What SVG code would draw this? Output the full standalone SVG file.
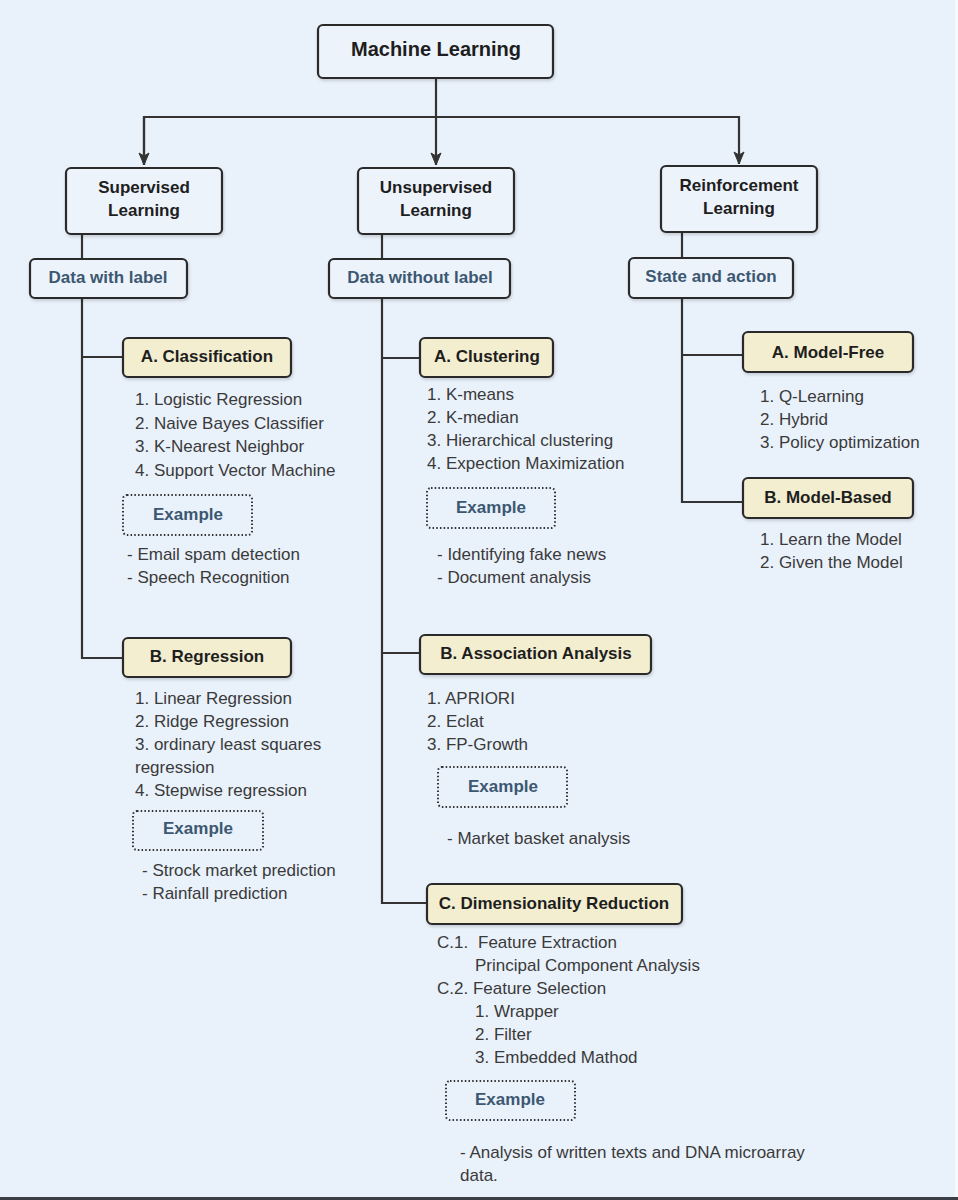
<svg xmlns="http://www.w3.org/2000/svg" width="958" height="1200" viewBox="0 0 958 1200">
<defs>
<marker id="arr" viewBox="0 0 14 12" refX="13" refY="6" markerWidth="14" markerHeight="12" markerUnits="userSpaceOnUse" orient="auto">
<path d="M1,1 L13,6 L1,11 L4,6 Z" fill="#333" stroke="#333" stroke-width="1" stroke-linejoin="round"/>
</marker>
<filter id="sh" x="-10%" y="-10%" width="130%" height="140%">
<feDropShadow dx="1" dy="2" stdDeviation="1.5" flood-color="#000" flood-opacity="0.15"/>
</filter>
<style>
.bg{fill:#e9f1fb}
.top{fill:#edf3fb;stroke:#2b2b2b;stroke-width:2.2}
.data{fill:#edf3fb;stroke:#2b2b2b;stroke-width:2.2}
.cat{fill:#f3eed0;stroke:#2b2b2b;stroke-width:2.2}
.ex{fill:none;stroke:#333;stroke-width:2;stroke-dasharray:1.5 2.2}
.ln{fill:none;stroke:#333;stroke-width:2.2}
text{font-family:"Liberation Sans",Arial,sans-serif}
.h{font-weight:bold;font-size:17px;fill:#1e1e1e;text-anchor:middle}
.big{font-weight:bold;font-size:20px;fill:#1e1e1e;text-anchor:middle}
.blue{font-weight:bold;font-size:17px;fill:#3c5871;text-anchor:middle}
.it{font-size:17px;fill:#3a3a3a}
</style>
</defs>
<rect class="bg" x="0" y="0" width="958" height="1200"/>
<rect x="955" y="0" width="3" height="1197" fill="#f5f8fc"/>
<rect x="0" y="1197" width="958" height="3" fill="#3b3e44"/>

<g id="connectors">
<path class="ln" d="M436,78 V165" marker-end="url(#arr)"/>
<path class="ln" d="M144,165 V117 H739 V164" marker-end="url(#arr)"/>
<path class="ln" d="M144,117 V165" marker-end="url(#arr)"/>
<path class="ln" d="M82,234 V259"/>
<path class="ln" d="M382,234 V259"/>
<path class="ln" d="M682,232 V258"/>
<path class="ln" d="M82,298 V658 H123"/>
<path class="ln" d="M82,357 H123"/>
<path class="ln" d="M382,298 V903 H427"/>
<path class="ln" d="M382,358 H420"/>
<path class="ln" d="M382,653 H420"/>
<path class="ln" d="M682,298 V502 H743"/>
<path class="ln" d="M682,355 H743"/>
</g>

<g id="ml"><rect class="top" filter="url(#sh)" x="318" y="25" width="235" height="53" rx="5"/><text class="big" x="436" y="56">Machine Learning</text></g>

<g id="supervised"><rect class="top" filter="url(#sh)" x="66" y="168" width="156" height="66" rx="5"/><text class="h" x="144" y="193">Supervised</text><text class="h" x="144" y="216">Learning</text></g>
<g id="unsupervised"><rect class="top" filter="url(#sh)" x="358" y="168" width="156" height="66" rx="5"/><text class="h" x="436" y="193">Unsupervised</text><text class="h" x="436" y="216">Learning</text></g>
<g id="reinforcement"><rect class="top" filter="url(#sh)" x="661" y="166" width="156" height="66" rx="5"/><text class="h" x="739" y="191">Reinforcement</text><text class="h" x="739" y="214">Learning</text></g>

<g id="data-with"><rect class="data" filter="url(#sh)" x="30" y="259" width="157" height="39" rx="5"/><text class="blue" x="108" y="283">Data with label</text></g>
<g id="data-without"><rect class="data" filter="url(#sh)" x="329" y="259" width="181" height="39" rx="5"/><text class="blue" x="420" y="283">Data without label</text></g>
<g id="state-action"><rect class="data" filter="url(#sh)" x="629" y="258" width="164" height="40" rx="5"/><text class="blue" x="711" y="282">State and action</text></g>

<g id="classification">
<rect class="cat" filter="url(#sh)" x="123" y="338" width="168" height="39" rx="5"/><text class="h" x="207" y="362">A. Classification</text>
<text class="it" x="135" y="405">1. Logistic Regression</text>
<text class="it" x="135" y="429">2. Naive Bayes Classifier</text>
<text class="it" x="135" y="452">3. K-Nearest Neighbor</text>
<text class="it" x="135" y="476">4. Support Vector Machine</text>
<rect class="ex" x="123" y="495" width="129" height="40" rx="4"/><text class="blue" x="188" y="520">Example</text>
<text class="it" x="127" y="560">- Email spam detection</text>
<text class="it" x="127" y="583">- Speech Recognition</text>
</g>

<g id="regression">
<rect class="cat" filter="url(#sh)" x="123" y="638" width="168" height="39" rx="5"/><text class="h" x="207" y="662">B. Regression</text>
<text class="it" x="135" y="704">1. Linear Regression</text>
<text class="it" x="135" y="727">2. Ridge Regression</text>
<text class="it" x="135" y="750">3. ordinary least squares</text>
<text class="it" x="135" y="773">regression</text>
<text class="it" x="135" y="796">4. Stepwise regression</text>
<rect class="ex" x="133" y="811" width="130" height="39" rx="4"/><text class="blue" x="198" y="834">Example</text>
<text class="it" x="142" y="876">- Strock market prediction</text>
<text class="it" x="142" y="899">- Rainfall prediction</text>
</g>

<g id="clustering">
<rect class="cat" filter="url(#sh)" x="420" y="338" width="133" height="39" rx="5"/><text class="h" x="487" y="362">A. Clustering</text>
<text class="it" x="427" y="400">1. K-means</text>
<text class="it" x="427" y="423">2. K-median</text>
<text class="it" x="427" y="446">3. Hierarchical clustering</text>
<text class="it" x="427" y="469">4. Expection Maximization</text>
<rect class="ex" x="427" y="488" width="128" height="40" rx="4"/><text class="blue" x="491" y="513">Example</text>
<text class="it" x="437" y="560">- Identifying fake news</text>
<text class="it" x="437" y="583">- Document analysis</text>
</g>

<g id="association">
<rect class="cat" filter="url(#sh)" x="420" y="635" width="231" height="39" rx="5"/><text class="h" x="536" y="659">B. Association Analysis</text>
<text class="it" x="427" y="704">1. APRIORI</text>
<text class="it" x="427" y="727">2. Eclat</text>
<text class="it" x="427" y="750">3. FP-Growth</text>
<rect class="ex" x="438" y="767" width="129" height="40" rx="4"/><text class="blue" x="503" y="792">Example</text>
<text class="it" x="447" y="844">- Market basket analysis</text>
</g>

<g id="dimensionality">
<rect class="cat" filter="url(#sh)" x="427" y="884" width="255" height="40" rx="5"/><text class="h" x="554" y="909">C. Dimensionality Reduction</text>
<text class="it" x="437" y="948">C.1. <tspan x="478">Feature Extraction</tspan></text>
<text class="it" x="475" y="971">Principal Component Analysis</text>
<text class="it" x="437" y="994">C.2. Feature Selection</text>
<text class="it" x="475" y="1017">1. Wrapper</text>
<text class="it" x="475" y="1040">2. Filter</text>
<text class="it" x="475" y="1063">3. Embedded Mathod</text>
<rect class="ex" x="446" y="1081" width="129" height="39" rx="4"/><text class="blue" x="510" y="1105">Example</text>
<text class="it" x="460" y="1158">- Analysis of written texts and DNA microarray</text>
<text class="it" x="460" y="1181">data.</text>
</g>

<g id="model-free">
<rect class="cat" filter="url(#sh)" x="743" y="332" width="170" height="40" rx="5"/><text class="h" x="828" y="358">A. Model-Free</text>
<text class="it" x="760" y="402">1. Q-Learning</text>
<text class="it" x="760" y="425">2. Hybrid</text>
<text class="it" x="760" y="448">3. Policy optimization</text>
</g>

<g id="model-based">
<rect class="cat" filter="url(#sh)" x="743" y="478" width="170" height="40" rx="5"/><text class="h" x="828" y="503">B. Model-Based</text>
<text class="it" x="760" y="545">1. Learn the Model</text>
<text class="it" x="760" y="568">2. Given the Model</text>
</g>
</svg>
